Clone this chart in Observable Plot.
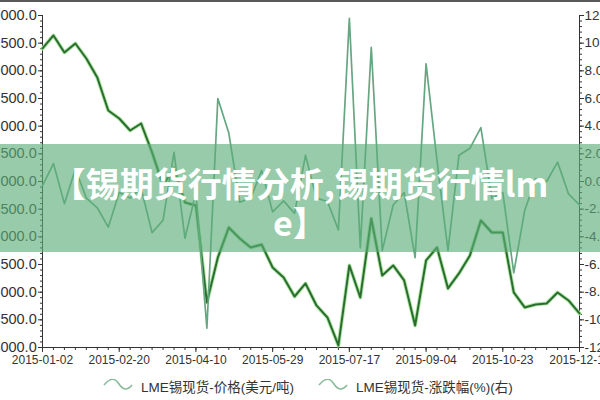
<!DOCTYPE html>
<html>
<head>
<meta charset="utf-8">
<script src="https://cdn.jsdelivr.net/npm/d3@7"></script>
<script src="https://cdn.jsdelivr.net/npm/@observablehq/plot@0.6"></script>
<style>
  html, body { margin: 0; padding: 0; background: #fff; }
  #wrap { position: relative; width: 600px; height: 400px; overflow: hidden; font-family: "Liberation Sans", Arial, "Noto Sans CJK SC", sans-serif; }
  #topbar { position: absolute; left: 0; top: 0; width: 600px; height: 2px; background: #5a5a5a; }
  #band { position: absolute; left: 0; top: 144px; width: 600px; height: 108px; background: rgba(92,174,122,0.64); }
  #title { position: absolute; left: 0; top: 144px; width: 600px; height: 108px; color: #fff; font-family: "Noto Sans CJK SC", sans-serif; font-weight: 700; font-size: 34px; line-height: 39px; text-align: center; padding-top: 19px; box-sizing: border-box; white-space: nowrap; }
  #legend { position: absolute; left: 0; top: 376px; width: 600px; height: 20px; font-size: 13.5px; color: #333; }
  .item { position: absolute; top: 0; display: flex; align-items: center; white-space: nowrap; }
  .item svg { margin-right: 8px; }
</style>
</head>
<body>
<div id="wrap">
  <div id="chart"></div>
  <div id="topbar"></div>
  <div id="band"></div>
  <div id="title">【锡期货行情分析,锡期货行情lm<br>e】</div>
  <div id="legend"></div>
</div>
<script>
const dates = ["2015-01-02","2015-01-09","2015-01-16","2015-01-23","2015-01-30","2015-02-06","2015-02-13","2015-02-20","2015-02-27","2015-03-06","2015-03-13","2015-03-20","2015-03-27","2015-04-03","2015-04-10","2015-04-17","2015-04-24","2015-05-01","2015-05-08","2015-05-15","2015-05-22","2015-05-29","2015-06-05","2015-06-12","2015-06-19","2015-06-26","2015-07-03","2015-07-10","2015-07-17","2015-07-24","2015-07-31","2015-08-07","2015-08-14","2015-08-21","2015-08-28","2015-09-04","2015-09-11","2015-09-18","2015-09-25","2015-10-02","2015-10-09","2015-10-16","2015-10-23","2015-10-30","2015-11-06","2015-11-13","2015-11-20","2015-11-27","2015-12-04","2015-12-11"];
const price = [19404,19639,19331,19494,19223,18880,18283,18139,17922,18048,17524,16928,17250,16621,16567,14814,15627,16169,15970,15808,15860,15446,15266,14922,15157,14760,14543,14037,15483,14904,16332,15302,15483,15212,14398,15573,15808,15067,15338,15663,16296,16079,16079,14995,14724,14778,14796,14995,14850,14615];
const change = [-0.3,1.3,-1.6,0.9,-1.2,-1.9,-3.3,-0.8,-1.2,-0.5,-3.7,-2.8,2.1,-4.1,-0.8,-10.6,6.0,3.5,-1.5,-1.2,0.8,-2.2,-1.4,-2.3,1.9,-1.2,-1.45,-3.5,11.8,-4.8,9.7,-5.0,-1.7,-0.8,-5.5,8.5,1.5,-5.0,1.9,2.4,3.9,-1.2,-0.8,-6.6,-2.1,0.2,0.0,1.4,-0.9,-1.7];
const xTickLabels = ["2015-01-02","2015-02-20","2015-04-10","2015-05-29","2015-07-17","2015-09-04","2015-10-23","2015-12-11"];
const leftTicks = [14000,14500,15000,15500,16000,16500,17000,17500,18000,18500,19000,19500,20000];
const rightTicks = [-12,-10,-8,-6,-4,-2,0,2,4,6,8,10,12];
const seriesNames = ["LME锡现货-价格(美元/吨)", "LME锡现货-涨跌幅(%)(右)"];

const parse = d3.utcParse("%Y-%m-%d");
const fmt = d3.utcFormat("%Y-%m-%d");
// map right-axis (%) values onto the left price scale: -12..12 -> 14000..20000
const toLeft = v => 17000 + v * 250;
const fromLeft = p => (p - 17000) / 250;

const rows = dates.map((d, i) => ({date: parse(d), price: price[i], change: toLeft(change[i])}));
const xMajor = xTickLabels.map(parse);
const xMinor = dates.map(parse);
const yMinor = d3.range(14000, 20001, 100);

const axisColor = "#333";
const chart = Plot.plot({
  width: 600,
  height: 372,
  marginLeft: 42,
  marginRight: 21,
  marginTop: 15,
  marginBottom: 25,
  style: {fontFamily: "'Liberation Sans', Arial, sans-serif", fontSize: "12px", color: "#333", background: "transparent", overflow: "hidden"},
  x: {type: "utc", domain: [parse("2015-01-02"), parse("2015-12-11")], label: null},
  y: {domain: [14000, 20000], label: null},
  marks: [
    // minor ticks
    Plot.axisX({ticks: xMinor, tickSize: 3, tickFormat: () => "", label: null, stroke: axisColor}),
    Plot.axisY({anchor: "left", ticks: yMinor, tickSize: 2, tickFormat: () => "", label: null, stroke: axisColor}),
    Plot.axisY({anchor: "right", ticks: yMinor, tickSize: 2, tickFormat: () => "", label: null, stroke: axisColor}),
    // major ticks + labels
    Plot.axisX({ticks: xMajor, tickSize: 5, tickPadding: 3, tickFormat: fmt, label: null, stroke: axisColor, fill: "#333", fontSize: 12}),
    Plot.axisY({anchor: "left", ticks: leftTicks, tickSize: 4, tickPadding: 1.8, tickFormat: d => d.toFixed(1), label: null, stroke: axisColor, fill: "#333", fontSize: 14.5}),
    Plot.axisY({anchor: "right", ticks: rightTicks.map(toLeft), tickSize: 4, tickPadding: 1, tickFormat: d => fromLeft(d).toFixed(1), label: null, stroke: axisColor, fill: "#333", fontSize: 13.5}),
    Plot.ruleX([parse("2015-01-02")], {stroke: axisColor, strokeWidth: 1}),
    Plot.ruleX([parse("2015-12-11")], {stroke: axisColor, strokeWidth: 1}),
    Plot.ruleY([14000], {stroke: axisColor, strokeWidth: 1}),
    // price line with halo
    Plot.line(rows, {x: "date", y: "price", stroke: "#a8e89c", strokeWidth: 3.8, strokeLinejoin: "round"}),
    Plot.line(rows, {x: "date", y: "price", stroke: "#2e6b34", strokeWidth: 2, strokeLinejoin: "round"}),
    // change line
    Plot.line(rows, {x: "date", y: "change", stroke: "#66a680", strokeWidth: 1.7, strokeLinejoin: "round"})
  ]
});
document.getElementById("chart").appendChild(chart);

// legend
const legend = document.getElementById("legend");
const positions = [103, 318];
seriesNames.forEach((name, i) => {
  const item = document.createElement("div");
  item.className = "item";
  item.style.left = positions[i] + "px";
  item.innerHTML = `<svg width="30" height="14"><path d="M1,6 C8,-2 12,-1 16,5 C20,11 24,12 29,6" fill="none" stroke="#86bb98" stroke-width="1.6"/></svg><span>${name}</span>`;
  legend.appendChild(item);
});
</script>
</body>
</html>
